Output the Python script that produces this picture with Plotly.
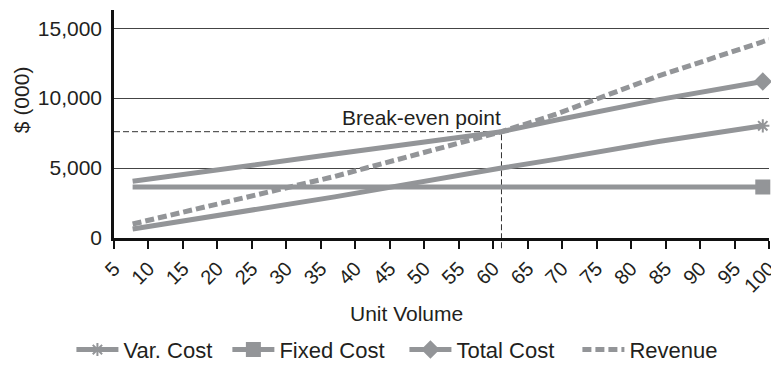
import plotly.graph_objects as go

# ---- data ----
units = [7.7, 37.0, 61.2, 69.0, 84.0, 99.1]
var_cost = [650, 2940, 5000, 5620, 6900, 8020]
fixed_cost = [3650, 3650, 3650, 3650, 3650, 3650]
total_cost = [4050, 6000, 7600, 8420, 9890, 11190]
rev_units = [7.7, 37.0, 61.2, 69.0, 84.0, 100.0]
revenue = [1000, 4400, 7600, 8830, 11590, 14180]

break_even_units = 61.2
break_even_value = 7600

x_ticks = [5, 10, 15, 20, 25, 30, 35, 40, 45, 50, 55, 60, 65, 70, 75, 80, 85, 90, 95, 100]
y_ticks = [0, 5000, 10000, 15000]
y_tick_labels = ["0", "5,000", "10,000", "15,000"]

x_range = [5, 100]
y_range = [0, 16300]

GRAY = "#939598"
CLEAR = "rgba(0,0,0,0)"
FONT = "Liberation Sans, Arial, sans-serif"
TXT = "#231f20"


def end_marker_colors(n):
    # series are drawn end-first so the legend picks the visible colour
    return [GRAY] + [CLEAR] * (n - 1)


fig = go.Figure()

series = [
    ("Var. Cost", units, var_cost, "asterisk-open", 11, "legend"),
    ("Fixed Cost", units, fixed_cost, "square", 13, "legend2"),
    ("Total Cost", units, total_cost, "diamond", 12, "legend3"),
]
for name, xs, ys, sym, size, leg in series:
    fig.add_trace(go.Scatter(
        x=xs[::-1], y=ys[::-1], name=name, mode="lines+markers",
        line=dict(color=GRAY, width=5),
        marker=dict(symbol=sym, size=size, color=end_marker_colors(len(xs)),
                    line=dict(width=2, color=end_marker_colors(len(xs)))),
        cliponaxis=False, legend=leg,
    ))

fig.add_trace(go.Scatter(
    x=rev_units, y=revenue, name="Revenue", mode="lines",
    line=dict(color=GRAY, width=5, dash="9px,4px"), legend="legend4",
))

# break-even guide lines
fig.add_shape(type="line", xref="x", yref="y",
              x0=x_range[0], x1=break_even_units, y0=break_even_value, y1=break_even_value,
              line=dict(color="#333333", width=1, dash="6px,3px"), layer="below")
fig.add_shape(type="line", xref="paper", yref="paper",
              x0=(break_even_units - x_range[0]) / (x_range[1] - x_range[0]),
              x1=(break_even_units - x_range[0]) / (x_range[1] - x_range[0]),
              y0=-0.045, y1=break_even_value / y_range[1],
              line=dict(color="#333333", width=1, dash="6px,3px"), layer="below")

fig.add_annotation(x=break_even_units, y=break_even_value, xref="x", yref="y",
                   text="Break-even point", showarrow=False,
                   xanchor="right", yanchor="bottom", xshift=2, yshift=1,
                   font=dict(family=FONT, size=21, color=TXT))

fig.add_annotation(x=0.447, y=-0.33, xref="paper", yref="paper",
                   text="Unit Volume", showarrow=False,
                   xanchor="center", yanchor="middle",
                   font=dict(family=FONT, size=21, color=TXT))

fig.add_annotation(x=-0.14, y=0.606, xref="paper", yref="paper",
                   text="$ (000)", showarrow=False, textangle=-90,
                   xanchor="center", yanchor="middle",
                   font=dict(family=FONT, size=21, color=TXT))

legend_common = dict(orientation="h", xanchor="left", y=-0.49, yanchor="middle",
                     font=dict(family=FONT, size=22, color=TXT),
                     itemwidth=42, bgcolor="rgba(0,0,0,0)")

fig.update_layout(
    template="none",
    width=771, height=371,
    margin=dict(l=114, r=2, t=10, b=133, autoexpand=False),
    paper_bgcolor="white", plot_bgcolor="white",
    font=dict(family=FONT, size=20, color=TXT),
    showlegend=True,
    legend=dict(x=-0.065, **legend_common),
    legend2=dict(x=0.1731, **legend_common),
    legend3=dict(x=0.4434, **legend_common),
    legend4=dict(x=0.7075, **legend_common),
    xaxis=dict(range=x_range, tickmode="array", tickvals=x_ticks,
               ticktext=[str(v) for v in x_ticks], tickangle=-45,
               ticklabeloverflow="allow",
               showgrid=False, zeroline=False, automargin=False,
               showline=True, linecolor="#111111", linewidth=3,
               ticks="outside", ticklen=8, tickwidth=1.5, tickcolor="#111111",
               tickfont=dict(family=FONT, size=20, color=TXT)),
    yaxis=dict(range=y_range, tickmode="array", tickvals=y_ticks, ticktext=y_tick_labels,
               showgrid=True, gridcolor="#444444", gridwidth=1, zeroline=False,
               automargin=False, showline=True, linecolor="#111111", linewidth=2.5,
               ticks="outside", ticklen=5, tickcolor=CLEAR,
               tickfont=dict(family=FONT, size=21, color=TXT)),
)

fig.write_html("out.html", config={"displayModeBar": False},
               post_script="document.body.style.margin='0px';")
